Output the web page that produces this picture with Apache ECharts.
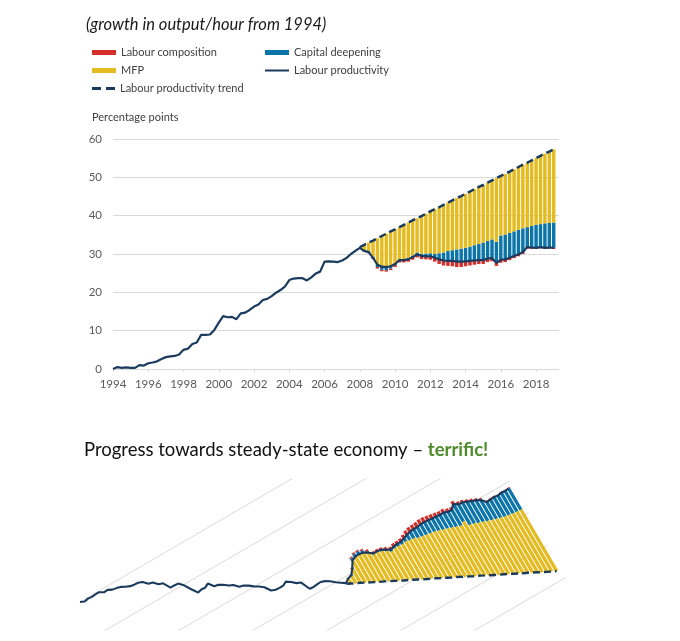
<!DOCTYPE html>
<html><head><meta charset="utf-8">
<script src="https://cdn.jsdelivr.net/npm/echarts@6/dist/echarts.min.js"></script>
<style>html,body{margin:0;padding:0;background:#fff}#c{width:680px;height:641px}</style>
</head><body><div id="c"></div>
<script>
// ---------------- data ----------------
const lpStartYear = 1994; // quarterly from 1994Q1
const labourProductivity = [
  0.0, 0.5, 0.3, 0.4,   0.3, 0.3, 1.0, 0.9,   1.5, 1.7, 2.0, 2.6,   3.1, 3.3, 3.4, 3.8,
  5.0, 5.3, 6.5, 6.9,   8.9, 8.9, 9.0, 10.2,  12.1, 13.8, 13.5, 13.6, 13.0, 14.5, 14.7, 15.4,
  16.3, 16.8, 18.0, 18.3, 19.0, 19.9, 20.6, 21.5, 23.2, 23.6, 23.7, 23.7, 23.1, 23.9, 24.9, 25.4,
  28.0, 28.1, 28.0, 27.9, 28.3, 29.0, 30.0, 30.8, 31.6, 30.8, 30.5, 29.0, 27.2, 26.7, 26.6, 26.8,
  27.4, 28.4, 28.4, 28.6, 29.2, 29.9, 29.5, 29.4, 29.4, 29.0, 28.6, 28.3, 28.2, 28.2, 28.0, 28.0,
  28.1, 28.2, 28.3, 28.4, 28.4, 28.8, 28.9, 27.7, 28.5, 28.6, 29.0, 29.5, 29.9, 30.5, 31.8, 31.7,
  31.6, 31.8, 31.6, 31.7, 31.6
];
const trendStartYear = 2008; // quarterly from 2008Q1
const productivityTrend = [
  31.8, 32.4, 33.0, 33.5, 34.1, 34.7, 35.3, 35.9, 36.4, 37.0, 37.6, 38.2, 38.8, 39.3, 39.9, 40.5,
  41.1, 41.7, 42.2, 42.8, 43.4, 44.0, 44.6, 45.1, 45.7, 46.3, 46.9, 47.5, 48.0, 48.6, 49.2, 49.8,
  50.4, 50.9, 51.5, 52.1, 52.7, 53.3, 53.8, 54.4, 55.0, 55.6, 56.2, 56.7, 57.3
];
const barStartYear = 2008.25; // quarterly from 2008Q2, contributions to shortfall vs trend
const mfp = [
  1.4, 2.2, 4.2, 6.9, 8.0, 8.7, 9.1, 9.0, 8.4, 8.9, 9.2, 9.2, 8.9, 9.8, 10.4, 10.9,
  11.7, 12.0, 12.4, 12.6, 13.0, 13.4, 13.7, 14.1, 14.4, 14.6, 14.9, 15.0, 15.2, 15.4, 16.6, 15.6,
  15.8, 16.0, 16.2, 16.4, 16.6, 16.8, 17.1, 17.4, 17.8, 18.2, 18.6, 19.1
];
const capitalDeepening = [
  0.2, 0.3, 0.3, -0.6, -0.8, -0.8, -0.6, -0.3, 0.2, 0.3, 0.4, 0.4, 0.5, 0.6, 0.7, 0.8,
  1.0, 1.6, 2.1, 2.6, 2.8, 3.2, 3.4, 3.5, 3.7, 4.0, 4.2, 4.6, 4.6, 4.9, 5.5, 6.3,
  6.5, 6.5, 6.4, 6.4, 6.2, 5.2, 5.6, 6.0, 6.0, 6.4, 6.4, 6.6
];
const labourComposition = [
  -0.2, -0.3, -0.3, -0.4, -0.4, -0.4, -0.4, -0.5, -0.6, -0.6, -0.6, -0.7, -0.8, -0.8, -0.8, -0.9,
  -1.0, -1.2, -1.3, -1.3, -1.4, -1.4, -1.4, -1.3, -1.2, -1.1, -1.0, -1.0, -0.9, -0.8, -0.8, -0.8,
  -0.7, -0.6, -0.6, -0.5, -0.5, -0.4, -0.4, -0.3, -0.3, -0.3, -0.3, -0.3
];
const yTicks = [0, 10, 20, 30, 40, 50, 60];
const xTickYears = [1994, 1996, 1998, 2000, 2002, 2004, 2006, 2008, 2010, 2012, 2014, 2016, 2018];

// ---------------- layout / style ----------------
const COL = { red: '#d62f2a', blue: '#0b74a8', yellow: '#e5bb22', navy: '#1b3b5e', grid: '#d9d9d9', text: '#595959' };
const FONT = 'Lato';
const TOP = { left: 113, top: 139, width: 446, height: 230, xmin: 1994, xmax: 2019.3, ymin: 0, ymax: 60 };
const BOT = { top: 479, bottom: 630 };
const ROT = 30.2 * Math.PI / 180, K = 0.97, ORIGIN = [80, 602];

function topPx(t, v) {
  return [TOP.left + (t - TOP.xmin) / (TOP.xmax - TOP.xmin) * TOP.width,
          TOP.top + TOP.height - (v - TOP.ymin) / (TOP.ymax - TOP.ymin) * TOP.height];
}
const P0 = topPx(1994, 0);
function mirror(t, v) { // mirrored & rotated copy of the top plot
  const p = topPx(t, v), dx = p[0] - P0[0], dy = p[1] - P0[1];
  const c = Math.cos(ROT), s = Math.sin(ROT);
  return [ORIGIN[0] + K * (c * dx - s * dy), ORIGIN[1] + K * (-s * dx - c * dy)];
}

// build stacked segments around labour productivity
const seg = { lab: [], cap: [], mfp: [] };
mfp.forEach((m, i) => {
  const t = barStartYear + i / 4;
  const base = labourProductivity[Math.round((t - lpStartYear) * 4)];
  let up = base, down = base;
  const parts = [['lab', labourComposition[i]], ['cap', capitalDeepening[i]], ['mfp', m]];
  parts.forEach(([k, v]) => { if (v > 0) { seg[k].push([t, up, up + v]); up += v; } });
  [['cap', capitalDeepening[i]], ['lab', labourComposition[i]]].forEach(([k, v]) => {
    if (v < 0) { seg[k].push([t, down + v, down]); down += v; }
  });
});

const lpTop = labourProductivity.map((v, i) => [lpStartYear + i / 4, v]);
const trTop = productivityTrend.map((v, i) => [trendStartYear + i / 4, v]);
const BARW = 0.25 * 0.78;

function topBar(params, api) {
  const t = api.value(0), lo = api.value(1), hi = api.value(2);
  const a = api.coord([t - BARW / 2, hi]), b = api.coord([t + BARW / 2, lo]);
  return { type: 'rect', shape: { x: a[0], y: a[1], width: b[0] - a[0], height: b[1] - a[1] },
           style: { fill: api.visual('color') } };
}
function botBar(params, api) {
  const t = api.value(0), lo = api.value(1), hi = api.value(2);
  const pts = [[t - BARW / 2, lo], [t - BARW / 2, hi], [t + BARW / 2, hi], [t + BARW / 2, lo]]
    .map(p => api.coord(mirror(p[0], p[1])));
  return { type: 'polygon', shape: { points: pts }, style: { fill: api.visual('color') } };
}

const series = [];
// top chart
[['Labour composition', 'lab', COL.red], ['Capital deepening', 'cap', COL.blue], ['MFP', 'mfp', COL.yellow]]
  .forEach(([name, k, color]) => {
    series.push({ name, type: 'custom', xAxisIndex: 0, yAxisIndex: 0, data: seg[k], renderItem: topBar,
      itemStyle: { color }, encode: { x: 0, y: [1, 2] }, z: 2 });
    series.push({ name, type: 'custom', xAxisIndex: 1, yAxisIndex: 1, data: seg[k], renderItem: botBar,
      itemStyle: { color }, clip: true, encode: { x: 0, y: [1, 2] }, z: 2 });
  });
series.push({ name: 'Labour productivity', type: 'line', xAxisIndex: 0, yAxisIndex: 0, data: lpTop,
  showSymbol: false, color: COL.navy, lineStyle: { width: 2.2, color: COL.navy }, z: 4 });
series.push({ name: 'Labour productivity trend', type: 'line', xAxisIndex: 0, yAxisIndex: 0, data: trTop,
  showSymbol: false, color: COL.navy, lineStyle: { width: 2.5, color: COL.navy, type: [7, 4] }, z: 4 });
// bottom chart
yTicks.forEach(v => series.push({ type: 'line', xAxisIndex: 1, yAxisIndex: 1, silent: true, showSymbol: false,
  data: [mirror(TOP.xmin, v), mirror(TOP.xmax, v)], lineStyle: { width: 1, color: COL.grid }, z: 1 }));
series.push({ name: 'Labour productivity', type: 'line', xAxisIndex: 1, yAxisIndex: 1, showSymbol: false,
  data: lpTop.map(p => mirror(p[0], p[1])), color: COL.navy, lineStyle: { width: 2.1, color: COL.navy }, z: 4 });
series.push({ name: 'Labour productivity trend', type: 'line', xAxisIndex: 1, yAxisIndex: 1, showSymbol: false,
  data: trTop.map(p => mirror(p[0], p[1])), color: COL.navy, lineStyle: { width: 2.4, color: COL.navy, type: [7, 4] }, z: 4 });

const legTxt = { color: '#404040', fontSize: 11, fontFamily: FONT };
function leg(name, left, top, icon, w, h, color) {
  return { data: [{ name, icon, itemStyle: { color } }], left, top, itemWidth: w, itemHeight: h,
    itemGap: 0, textStyle: legTxt, selectedMode: false, padding: 0, itemStyle: { borderWidth: 0 } };
}

const option = {
  animation: false,
  backgroundColor: '#fff',
  textStyle: { fontFamily: FONT },
  title: [
    { text: '(growth in output/hour from 1994)', left: 86, top: 16, padding: 0,
      textStyle: { fontFamily: FONT, fontStyle: 'italic', fontWeight: 'normal', fontSize: 16.5, color: '#1a1a1a' } },
    { text: '{a|Progress towards steady-state economy – }{b|terrific!}', left: 84, top: 441, padding: 0,
      textStyle: { fontWeight: 'normal', rich: {
        a: { fontFamily: FONT, fontSize: 18.5, fontWeight: 'normal', color: '#111' },
        b: { fontFamily: FONT, fontSize: 18.5, fontWeight: 'bold', color: '#4f8a2b' } } } }
  ],
  legend: [
    leg('Labour composition', 92, 47, 'rect', 24, 5, COL.red),
    leg('Capital deepening', 265, 47, 'rect', 24, 5, COL.blue),
    leg('MFP', 92, 65, 'rect', 24, 5, COL.yellow),
    leg('Labour productivity', 265, 65, 'path://M0,0H24V2H0Z', 24, 2, COL.navy),
    leg('Labour productivity trend', 92, 83, 'path://M0,0H9V3H0Z M14,0H23V3H14Z', 23, 3, COL.navy)
  ],
  graphic: [{ type: 'text', left: 92, top: 112, style: { text: 'Percentage points', fontSize: 11, fontFamily: FONT, fill: '#404040' } }],
  grid: [
    { left: TOP.left, top: TOP.top, width: TOP.width, height: TOP.height },
    { left: 0, right: 0, top: BOT.top, height: BOT.bottom - BOT.top }
  ],
  xAxis: [
    { type: 'value', gridIndex: 0, min: TOP.xmin, max: TOP.xmax,
      axisLine: { show: false }, splitLine: { show: false },
      axisTick: { show: true, customValues: xTickYears, length: 3, lineStyle: { color: COL.grid } },
      axisLabel: { customValues: xTickYears, color: COL.text, fontSize: 11.5, fontFamily: FONT, margin: 9, formatter: v => String(v) } },
    { type: 'value', gridIndex: 1, min: 0, max: 680, show: false, splitLine: { show: false } }
  ],
  yAxis: [
    { type: 'value', gridIndex: 0, min: 0, max: 60, interval: 10,
      axisLine: { show: false }, axisTick: { show: false },
      splitLine: { lineStyle: { color: COL.grid, width: 1 } },
      axisLabel: { color: COL.text, fontSize: 11.5, fontFamily: FONT, margin: 11 } },
    { type: 'value', gridIndex: 1, min: BOT.top, max: BOT.bottom, inverse: true, show: false, splitLine: { show: false } }
  ],
  series
};
const chart = echarts.init(document.getElementById('c'), null, { renderer: 'canvas' });
chart.setOption(option);
</script></body></html>
